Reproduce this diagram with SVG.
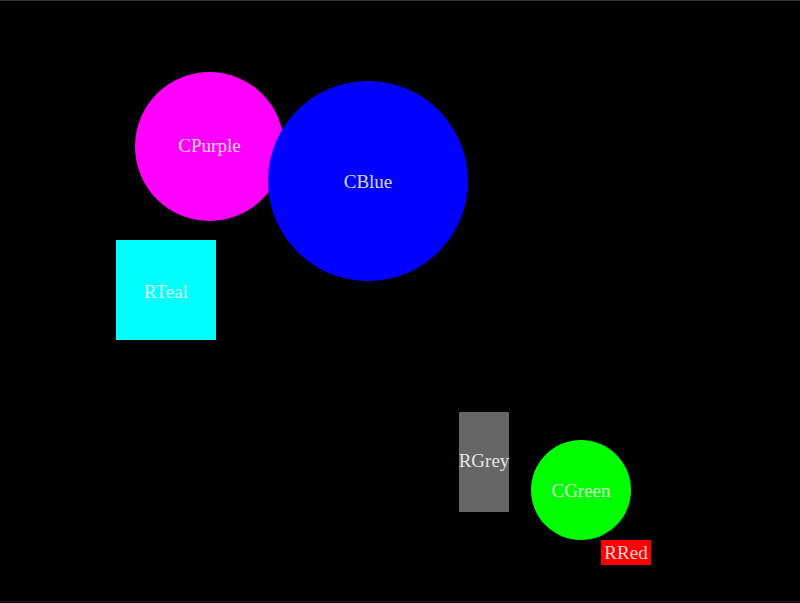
<svg xmlns="http://www.w3.org/2000/svg" width="800" height="603" viewBox="0 0 800 603">
<style>
text{font-family:"Liberation Serif","DejaVu Serif",serif;font-size:19px;fill:#fff;fill-opacity:0.85;text-anchor:middle;dominant-baseline:central}
</style>
<rect x="0" y="0" width="800" height="603" fill="#000"/>
<line x1="0" y1="0.5" x2="800" y2="0.5" stroke="#333" stroke-width="1"/>
<line x1="0" y1="601.5" x2="800" y2="601.5" stroke="#301830" stroke-width="1"/>
<g id="connectors"></g>
<g id="CPurple"><circle cx="209.5" cy="146.5" r="74.5" fill="#f0f"/><text x="209.5" y="145">CPurple</text></g>
<g id="CBlue"><circle cx="368" cy="181" r="100" fill="#00f"/><text x="368" y="181">CBlue</text></g>
<g id="RTeal"><rect x="116" y="240" width="100" height="100" fill="#0ff"/><text x="166" y="291">RTeal</text></g>
<g id="RGrey"><rect x="459" y="412" width="50" height="100" fill="#666"/><text x="484" y="460">RGrey</text></g>
<g id="CGreen"><circle cx="581" cy="490" r="50" fill="#0f0"/><text x="581" y="490">CGreen</text></g>
<g id="RRed"><rect x="601" y="540" width="50" height="25" fill="#f00"/><text x="626" y="552">RRed</text></g>
</svg>
